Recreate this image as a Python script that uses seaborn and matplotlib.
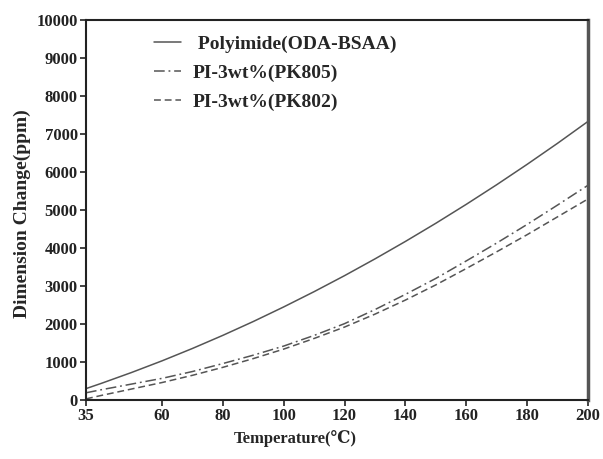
import matplotlib
matplotlib.use("Agg")
import matplotlib.pyplot as plt
import seaborn as sns
import pandas as pd

temperature = [35, 40, 50, 60, 70, 80, 90, 100, 110, 120, 130, 140, 150, 160, 170, 180, 190, 200]
pi_oda_bsaa = [300, 437, 725, 1031, 1357, 1702, 2066, 2450, 2852, 3273, 3714, 4173, 4651, 5149, 5665, 6201, 6755, 7330]
pi_pk805 = [190, 270, 420, 570, 750, 960, 1180, 1420, 1700, 2010, 2380, 2780, 3200, 3660, 4130, 4620, 5130, 5650]
pi_pk802 = [30, 120, 290, 460, 650, 860, 1090, 1340, 1620, 1920, 2260, 2630, 3030, 3460, 3900, 4350, 4820, 5290]
series_names = [" Polyimide(ODA-BSAA)", "PI-3wt%(PK805)", "PI-3wt%(PK802)"]
x_ticks = [35, 60, 80, 100, 120, 140, 160, 180, 200]
y_ticks = [0, 1000, 2000, 3000, 4000, 5000, 6000, 7000, 8000, 9000, 10000]

sns.set_theme(style="white")
plt.rcParams['font.family'] = ['Liberation Serif', 'DejaVu Serif']
plt.rcParams['font.weight'] = 'bold'

df = pd.DataFrame({
    "Temperature": temperature * 3,
    "Dimension": pi_oda_bsaa + pi_pk805 + pi_pk802,
    "Series": [series_names[0]] * len(temperature) + [series_names[1]] * len(temperature) + [series_names[2]] * len(temperature),
})

fig = plt.figure(figsize=(6.03, 4.59), dpi=100)
ax = fig.add_axes([0.1426, 0.1285, 0.975 - 0.1426, 0.9564 - 0.1285])

styles = {series_names[0]: "-", series_names[1]: (0, (7, 2.5, 1.2, 2.5)), series_names[2]: (0, (4.5, 2.5))}
for name in series_names:
    sub = df[df["Series"] == name]
    sns.lineplot(data=sub, x="Temperature", y="Dimension", ax=ax, color="#555555",
                 linewidth=1.1, linestyle=styles[name], label=name, estimator=None)

ax.set_xlim(35, 200)
ax.set_ylim(0, 10000)
ax.set_xticks(x_ticks)
ax.set_yticks(y_ticks)
ax.set_xticklabels([str(t) for t in x_ticks], fontsize=12, fontweight='bold')
ax.set_yticklabels([str(t) for t in y_ticks], fontsize=12, fontweight='bold')
ax.tick_params(axis='both', which='both', direction='out', length=4, width=1.2,
               bottom=True, left=True, top=False, right=False, colors='#222222', pad=2)
ax.set_xlabel("Temperature(℃)", fontsize=12, fontweight='bold')
ax.set_ylabel("Dimension Change(ppm)", fontsize=14, fontweight='bold')
ax.xaxis.set_label_coords(0.416, -0.078)
ax.yaxis.set_label_coords(-0.11, 0.49)

for side in ["left", "bottom", "top"]:
    ax.spines[side].set_visible(True)
    ax.spines[side].set_color("#222222")
    ax.spines[side].set_linewidth(1.5)
ax.spines["right"].set_visible(True)
ax.spines["right"].set_color("#555555")
ax.spines["right"].set_linewidth(2.5)

leg = ax.legend(loc="upper left", bbox_to_anchor=(0.12, 0.98), frameon=False,
                prop={'weight': 'bold', 'size': 14}, handlelength=1.4, labelspacing=0.58,
                handletextpad=0.6, borderaxespad=0.0)

fig.savefig("out.png", dpi=100)
